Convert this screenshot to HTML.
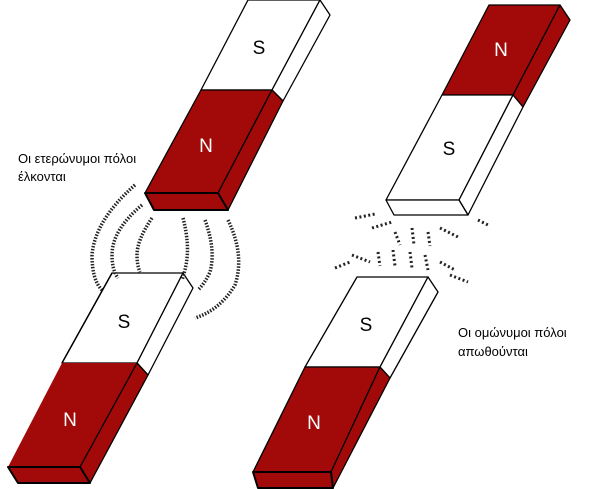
<!DOCTYPE html>
<html><head><meta charset="utf-8"><style>
html,body{margin:0;padding:0;background:#fff;width:600px;height:489px;overflow:hidden}
svg{display:block}
text{font-family:"Liberation Sans","DejaVu Sans",sans-serif}
</style></head><body>
<svg width="600" height="489" viewBox="0 0 600 489" xmlns="http://www.w3.org/2000/svg">
<g stroke="#000" stroke-width="1.3" stroke-linejoin="round">
<polygon points="248,0 320,0 272,90 201,90" fill="#fff"/>
<polygon points="201,90 272,90 218,193 145,193" fill="#a20a0a"/>
<polygon points="320,0 330,15 283,101 272,90" fill="#fff"/>
<polygon points="272,90 283,101 228,210 218,193" fill="#a20a0a"/>
<polygon points="145,193 218,193 228,210 154,210" fill="#a20a0a" stroke-width="2"/>
<polygon points="112,273 183,273 137,363 62,363" fill="#fff"/>
<polygon points="62,363 137,363 80,467 8,467" fill="#a20a0a" stroke="none"/>
<polygon points="183,273 193,288 148,375 137,363" fill="#fff"/>
<polygon points="137,363 148,375 90,483 80,467" fill="#a20a0a"/>
<polygon points="8,467 80,467 90,483 18,483" fill="#a20a0a" stroke-width="2"/>
<line x1="112" y1="273" x2="62" y2="363"/>
<polygon points="489,5 560,5 513,95 442,95" fill="#a20a0a"/>
<polygon points="442,95 513,95 459,200 386,200" fill="#fff"/>
<polygon points="560,5 570,20 523,107 513,95" fill="#a20a0a"/>
<polygon points="513,95 523,107 468,215 459,200" fill="#fff"/>
<polygon points="386,200 459,200 468,215 394,215" fill="#fff"/>
<polygon points="357,277 428,277 380,367 305,367" fill="#fff"/>
<polygon points="305,367 380,367 331,472 253,472" fill="#a20a0a"/>
<polygon points="428,277 438,292 390,378 380,367" fill="#fff"/>
<polygon points="380,367 390,378 333,488 331,472" fill="#a20a0a"/>
<polygon points="253,472 331,472 333,488 258,488" fill="#a20a0a" stroke-width="2"/>
</g>
<g font-size="19" text-anchor="middle">
<text x="259" y="54" fill="#000">S</text>
<text x="206" y="152" fill="#fff">N</text>
<text x="124" y="328" fill="#000">S</text>
<text x="70" y="426" fill="#fff">N</text>
<text x="501" y="56" fill="#fff">N</text>
<text x="449" y="155" fill="#000">S</text>
<text x="366" y="331" fill="#000">S</text>
<text x="314" y="429" fill="#fff">N</text>
</g>
<g font-size="13" fill="#000">
<text x="18" y="163">Οι ετερώνυμοι πόλοι</text>
<text x="18" y="181">έλκονται</text>
<text x="458" y="337">Οι ομώνυμοι πόλοι</text>
<text x="458" y="356">απωθούνται</text>
</g>
<g fill="none" stroke="#222" stroke-width="3.5" stroke-dasharray="1.5 1.5">
<path d="M135,185 Q95,220 92,255 Q92,280 102,290"/>
<path d="M142,205 Q112,230 112,255 Q112,270 118,278"/>
<path d="M152,218 Q137,240 137,255 Q137,265 140,272"/>
<path d="M183,218 Q190,245 186,265 Q184,275 182,280"/>
<path d="M205,220 Q216,250 210,272 Q205,283 198,290"/>
<path d="M228,220 Q245,255 235,285 Q220,310 195,318"/>
</g>
<g fill="none" stroke="#222" stroke-width="3" stroke-dasharray="2 2.5">
<path d="M355,218 L375,214"/><path d="M372,228 L392,222"/>
<path d="M395,232 L400,245"/><path d="M412,228 L414,245"/><path d="M428,232 L430,246"/>
<path d="M440,228 L460,238"/><path d="M478,220 L490,226"/>
<path d="M335,268 L350,262"/><path d="M352,255 L370,262"/>
<path d="M378,252 L380,266"/><path d="M393,250 L395,266"/><path d="M410,252 L412,268"/>
<path d="M425,255 L428,270"/><path d="M440,262 L455,270"/><path d="M450,275 L468,282"/>
</g>
</svg>
</body></html>
